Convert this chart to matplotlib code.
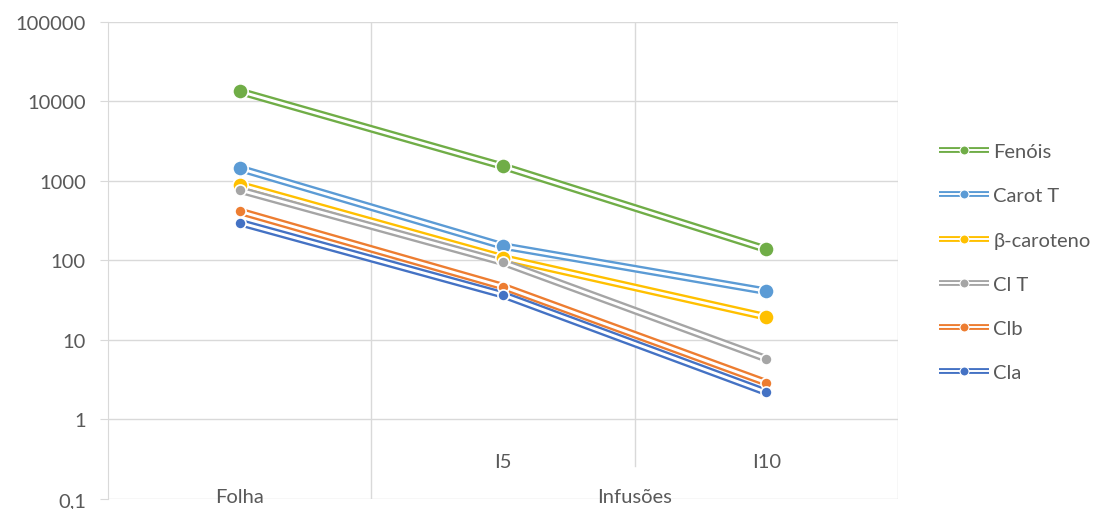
import matplotlib.pyplot as plt
from matplotlib.lines import Line2D
from matplotlib.legend_handler import HandlerBase

plt.rcParams['font.family'] = ['Lato', 'DejaVu Sans']

categories = ["Folha", "I5", "I10"]
groups = ["Folha", "Infusões"]
series = ["Fenóis", "Carot T", "β-caroteno", "Cl T", "Clb", "Cla"]
fenois = [13400, 1530, 138]
carot_t = [1440, 152, 41]
beta_caroteno = [900, 108, 19.5]
cl_t = [770, 95, 5.8]
clb = [415, 47, 2.9]
cla = [300, 37, 2.2]
values = [fenois, carot_t, beta_caroteno, cl_t, clb, cla]
colors = ['#70AD47', '#5B9BD5', '#FFC000', '#A5A5A5', '#ED7D31', '#4472C4']
msizes = [11, 11, 11, 8, 8, 8]

txt_c = '#595959'
grid_c = '#D9D9D9'
fs = 14.5

fig = plt.figure(figsize=(11.08, 5.10), dpi=100)
ax = fig.add_axes([0.0975, 0.0196, 0.713, 0.9354])
ax.set_yscale('log')
ax.set_ylim(0.1, 100000)
ax.set_xlim(-0.5, 2.5)

for p in [0.1, 1, 10, 100, 1000, 10000, 100000]:
    ax.axhline(p, color=grid_c, lw=1, zorder=0)
ax.axvline(0.5, color=grid_c, lw=1, zorder=0)
ax.axvline(2.5, color=grid_c, lw=1, zorder=0)
ax.axvline(1.5, ymin=0.069, ymax=1, color=grid_c, lw=1, zorder=0)

x = list(range(len(categories)))
# bottom series first so the top ones overlay
for i in reversed(range(len(series))):
    ax.plot(x, values[i], color=colors[i], lw=5.5, zorder=2 + i * 0.01, solid_capstyle='butt')
    ax.plot(x, values[i], color='white', lw=2.1, zorder=2 + i * 0.01 + 0.001, solid_capstyle='butt')
for i in reversed(range(len(series))):
    ax.plot(x, values[i], ls='none', marker='o', ms=msizes[i], color=colors[i],
            mec='white', mew=1.2, zorder=3 + i * 0.01)

for s in ['top', 'right', 'bottom']:
    ax.spines[s].set_visible(False)
ax.spines['left'].set_color(grid_c)
ax.set_xticks([])
ax.set_yticks([0.1, 1, 10, 100, 1000, 10000, 100000])
ax.set_yticklabels(["0,1", "1", "10", "100", "1000", "10000", "100000"])
ax.yaxis.set_minor_locator(plt.NullLocator())
ax.tick_params(axis='y', length=6, color=grid_c, labelsize=fs, labelcolor=txt_c, pad=10)

ax.text(1, 0.30, categories[1], ha='center', va='center', fontsize=fs, color=txt_c)
ax.text(2, 0.30, categories[2], ha='center', va='center', fontsize=fs, color=txt_c)
ax.text(0, 0.108, groups[0], ha='center', va='center', fontsize=fs, color=txt_c)
ax.text(1.5, 0.108, groups[1], ha='center', va='center', fontsize=fs, color=txt_c)


class DoubleLineHandler(HandlerBase):
    def create_artists(self, legend, orig_handle, xdescent, ydescent, width, height, fontsize, trans):
        c = orig_handle.get_color()
        y = height / 2 - ydescent
        l1 = Line2D([0, width], [y, y], color=c, lw=4.2, transform=trans, solid_capstyle='butt')
        l2 = Line2D([0, width], [y, y], color='white', lw=1.4, transform=trans, solid_capstyle='butt')
        m = Line2D([width / 2], [y], marker='o', ms=6.5, color=c, mec='white', mew=0.8, ls='none', transform=trans)
        return [l1, l2, m]


handles = [Line2D([], [], color=c) for c in colors]
fig.legend(handles, series, loc='center left', bbox_to_anchor=(0.831, 0.484), frameon=False,
           fontsize=fs, labelcolor=txt_c, handler_map={Line2D: DoubleLineHandler()},
           handlelength=2.5, handletextpad=0.2, labelspacing=1.35)

fig.savefig('out.png', dpi=100)
